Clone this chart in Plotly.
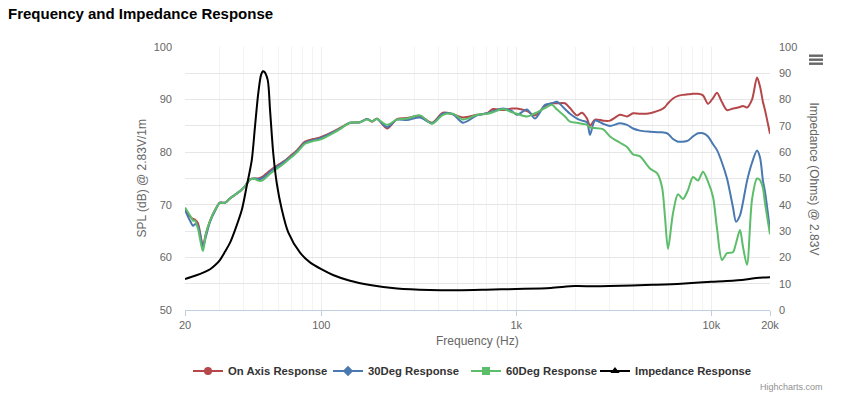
import plotly.graph_objects as go

# ---------------- data ----------------
spl_freq = [20, 21.2, 22, 22.5, 23.3, 24.7, 25.6, 26.9, 28.5, 30.2, 32.1, 34, 36.1, 38.3, 40.6, 43.1,
            45.7, 47.4, 49.7, 52.1, 54.6, 57.9, 61.4, 65.1, 69, 75.1, 82.5, 90.7, 98.5, 110.8, 124.7,
            140.4, 157.9, 171.5, 182, 193, 217.3, 244.5, 275.1, 320.8, 369.6, 420.8, 473.6, 533, 628.8,
            707.6, 759.4, 854.6, 950.6, 1008, 1135, 1247, 1404, 1525, 1617, 1777, 1885, 2048, 2172,
            2304, 2388, 2532, 2784, 3024, 3402, 3696, 3968, 4308, 4848, 5268, 5588, 5788, 5998, 6362,
            6750, 7158, 7594, 8056, 8546, 9066, 9620, 10206, 10698, 11348, 12038, 12922, 13388, 14036,
            14540, 15242, 16172, 17158, 17774, 18414, 18854, 20000]

on_axis = [69.2, 67.8, 67.3, 67.2, 66.5, 62.3, 64.5, 67.0, 69.0, 70.4, 70.4, 71.2, 71.9, 72.6, 73.5, 74.9,
           75.0, 75.0, 75.3, 75.9, 76.5, 77.2, 77.8, 78.4, 79.2, 80.4, 82.0, 82.5, 82.8, 83.6, 84.6,
           85.6, 85.7, 86.3, 85.8, 86.4, 84.5, 86.3, 86.5, 86.9, 85.6, 87.5, 87.2, 86.6, 87.1,
           87.4, 88.2, 88.0, 88.3, 88.3, 87.8, 87.0, 88.8, 89.3, 89.3, 89.3, 88.4, 87.0, 87.5,
           86.4, 85.0, 86.2, 86.0, 86.0, 87.1, 86.8, 87.4, 87.3, 87.4, 87.8, 88.2, 88.6, 89.3, 90.2,
           90.7, 90.9, 91.0, 91.1, 91.1, 90.8, 89.2, 90.3, 91.3, 89.5, 88.0, 88.3, 88.4, 88.6,
           88.8, 88.5, 90.0, 94.2, 92.5, 89.5, 88.0, 83.5]

deg30 = [69.0, 67.0, 66.0, 66.3, 66.0, 62.0, 64.0, 66.8, 68.8, 70.4, 70.4, 71.2, 71.9, 72.6, 73.5, 74.8,
         75.0, 74.9, 75.0, 75.6, 76.3, 77.0, 77.6, 78.3, 79.0, 80.2, 81.8, 82.3, 82.6, 83.5, 84.5,
         85.6, 85.7, 86.3, 85.9, 86.3, 84.8, 86.2, 86.1, 86.6, 85.5, 87.3, 87.2, 85.6, 87.0,
         87.4, 87.8, 88.3, 87.8, 87.1, 88.1, 86.4, 89.0, 89.3, 89.6, 88.2, 87.3, 86.4, 86.0,
         85.7, 83.3, 86.0, 85.4, 85.0, 85.5, 85.2, 84.5, 84.1, 83.9, 83.8, 83.8, 83.7, 83.5, 82.5,
         82.0, 82.0, 82.2, 83.0, 83.6, 83.6, 83.0, 81.5, 80.4, 78.0, 75.0, 69.5, 66.8, 68.0,
         70.5, 74.5, 78.0, 80.3, 79.0, 74.5, 72.5, 65.2]

deg60 = [69.5, 68.0, 67.0, 67.0, 65.5, 61.2, 64.5, 67.0, 69.0, 70.3, 70.4, 71.2, 71.9, 72.6, 73.5, 74.8,
         74.9, 74.6, 74.6, 75.2, 75.9, 76.6, 77.3, 78.0, 78.8, 80.0, 81.6, 82.1, 82.4, 83.3, 84.4,
         85.6, 85.7, 86.2, 85.9, 86.3, 85.2, 86.2, 86.4, 87.0, 85.4, 87.1, 87.3, 86.2, 87.1,
         87.3, 87.6, 88.2, 87.6, 87.3, 86.8, 87.4, 88.4, 89.0, 88.1, 86.8, 85.8, 85.6, 85.4,
         85.2, 84.7, 84.6, 84.4, 83.0, 81.8, 81.0, 79.6, 79.2, 76.9, 76.0, 73.4, 67.7, 61.6, 68.4,
         72.0, 71.1, 72.8, 75.3, 74.6, 76.3, 74.4, 71.5, 65.5, 59.5, 60.8, 61.0, 62.7, 65.2,
         62.0, 58.6, 71.0, 75.0, 74.7, 73.1, 70.3, 64.4]

imp_freq = [20, 22.5, 25.3, 26.9, 28.5, 30.2, 32.1, 34, 36.1, 39.1, 41.4, 44, 45.7, 47.5, 49.1, 50.2,
            51, 53.1, 54.6, 56.7, 59.1, 62.6, 67.7, 77.8, 87.5, 100, 114.8, 140.4, 177.7, 244.5, 361, 500,
            700, 1000, 1500, 2000, 2500, 3000, 5000, 7000, 10000, 12000, 15000, 17000, 20000]
impedance = [11.8, 13.0, 14.5, 15.5, 17.0, 19.0, 22.2, 25.5, 30.4, 38.0, 46.9, 57.0, 69.7, 82.4, 89.4, 90.8,
             90.6, 87.5, 76.0, 59.6, 48.2, 38.5, 29.5, 21.8, 18.1, 15.5, 13.3, 11.1, 9.5, 8.2, 7.6, 7.5,
             7.7, 8.0, 8.4, 9.1, 9.0, 9.1, 9.6, 10.0, 10.7, 11.0, 11.6, 12.2, 12.5]

series_names = ["On Axis Response", "30Deg Response", "60Deg Response", "Impedance Response"]
colors = ["#b5474a", "#4a78b0", "#5cbd6a", "#000000"]
symbols = ["circle", "diamond", "square", "triangle-up"]
x_tickvals = [20, 100, 1000, 10000, 20000]
x_ticktext = ["20", "100", "1k", "10k", "20k"]

FONT = "Liberation Sans, Arial, sans-serif"

fig = go.Figure()
for name, vals, col in zip(series_names[:3], [on_axis, deg30, deg60], colors[:3]):
    fig.add_trace(go.Scatter(x=spl_freq, y=vals, mode="lines", name=name, showlegend=False,
                             line=dict(color=col, width=2, shape="spline", smoothing=0.8)))
fig.add_trace(go.Scatter(x=imp_freq, y=impedance, mode="lines", name=series_names[3], yaxis="y2",
                         showlegend=False,
                         line=dict(color=colors[3], width=2, shape="spline", smoothing=0.8)))

# legend entries, one legend box per entry so each can be placed like the original
legend_ids = ["legend", "legend2", "legend3", "legend4"]
legend_x = [188, 328, 466, 595]
for name, col, sym, lid in zip(series_names, colors, symbols, legend_ids):
    fig.add_trace(go.Scatter(x=[None], y=[None], mode="lines+markers", name=name, legend=lid,
                             line=dict(color=col, width=2), marker=dict(symbol=sym, size=8, color=col)))

legend_common = dict(orientation="h", xref="container", xanchor="left",
                     yref="container", y=1 - 371 / 399, yanchor="middle",
                     font=dict(family=FONT, size=11.3, color="#333333", weight="bold"),
                     itemwidth=30, bgcolor="rgba(0,0,0,0)")
legends = {lid: dict(legend_common, x=lx / 855) for lid, lx in zip(legend_ids, legend_x)}

minor_vals = [k * 10 ** e for e in range(1, 5) for k in range(2, 10) if 20 <= k * 10 ** e <= 20000]

fig.update_layout(
    width=855, height=399,
    margin=dict(l=185, r=85, t=47, b=89, autoexpand=False),
    paper_bgcolor="white", plot_bgcolor="white",
    font=dict(family=FONT, size=11, color="#666666"),
    title=dict(text="<b>Frequency and Impedance Response</b>", x=8 / 855, xanchor="left",
               y=1 - 14 / 399, yanchor="middle", pad=dict(l=0, r=0, t=0, b=0),
               font=dict(family=FONT, size=15, color="#000000")),
    xaxis=dict(type="log", range=[1.30103, 4.30103], tickvals=x_tickvals, ticktext=x_ticktext,
               showgrid=True, gridcolor="#eeeeee", gridwidth=1, automargin=False,
               minor=dict(tickvals=minor_vals, showgrid=True, gridcolor="#f3f3f3", ticks=""),
               ticks="outside", ticklen=5, tickcolor="#C0D0E0",
               showline=True, linecolor="#C0D0E0", linewidth=1, zeroline=False,
               tickfont=dict(size=11, color="#666666")),
    yaxis=dict(range=[50, 100], dtick=10, showgrid=True, gridcolor="#e6e6e6", zeroline=False,
               automargin=False, showline=False, tickfont=dict(size=11, color="#666666"), ticks="",
               ticklabelstandoff=12),
    yaxis2=dict(range=[0, 100], dtick=10, overlaying="y", side="right", showgrid=True, automargin=False,
                gridcolor="#e6e6e6", zeroline=False, showline=False, ticks="",
                tickfont=dict(size=11, color="#666666"), ticklabelstandoff=8),
    showlegend=True,
    annotations=[
        dict(text="Frequency (Hz)", xref="paper", yref="paper", x=0.5, y=(310 - 341) / 263,
             xanchor="center", yanchor="middle", showarrow=False, font=dict(size=12, color="#666666")),
        dict(text="SPL (dB) @ 2.83V/1m", xref="paper", yref="paper", x=(141 - 185) / 585, y=0.5,
             xanchor="center", yanchor="middle", textangle=-90, showarrow=False,
             font=dict(size=12, color="#666666")),
        dict(text="Impedance (Ohms) @ 2.83V", xref="paper", yref="paper", x=(814 - 185) / 585, y=0.5,
             xanchor="center", yanchor="middle", textangle=90, showarrow=False,
             font=dict(size=12, color="#666666")),
        dict(text="Highcharts.com", xref="paper", yref="paper", x=(825 - 185) / 585, y=(310 - 387) / 263,
             xanchor="right", yanchor="middle", showarrow=False, font=dict(size=9, color="#909090")),
    ],
    shapes=[dict(type="rect", xref="paper", yref="paper",
                 x0=(809 - 185) / 585, x1=(823 - 185) / 585,
                 y0=(310 - yy) / 263, y1=(310 - yy - 2.4) / 263,
                 fillcolor="#666666", line=dict(width=0)) for yy in (54.5, 58.5, 62.5)],
    **legends,
)

fig.write_html("out.html", config={"displayModeBar": False},
               post_script="document.body.style.margin='0';document.body.style.overflow='hidden';")
